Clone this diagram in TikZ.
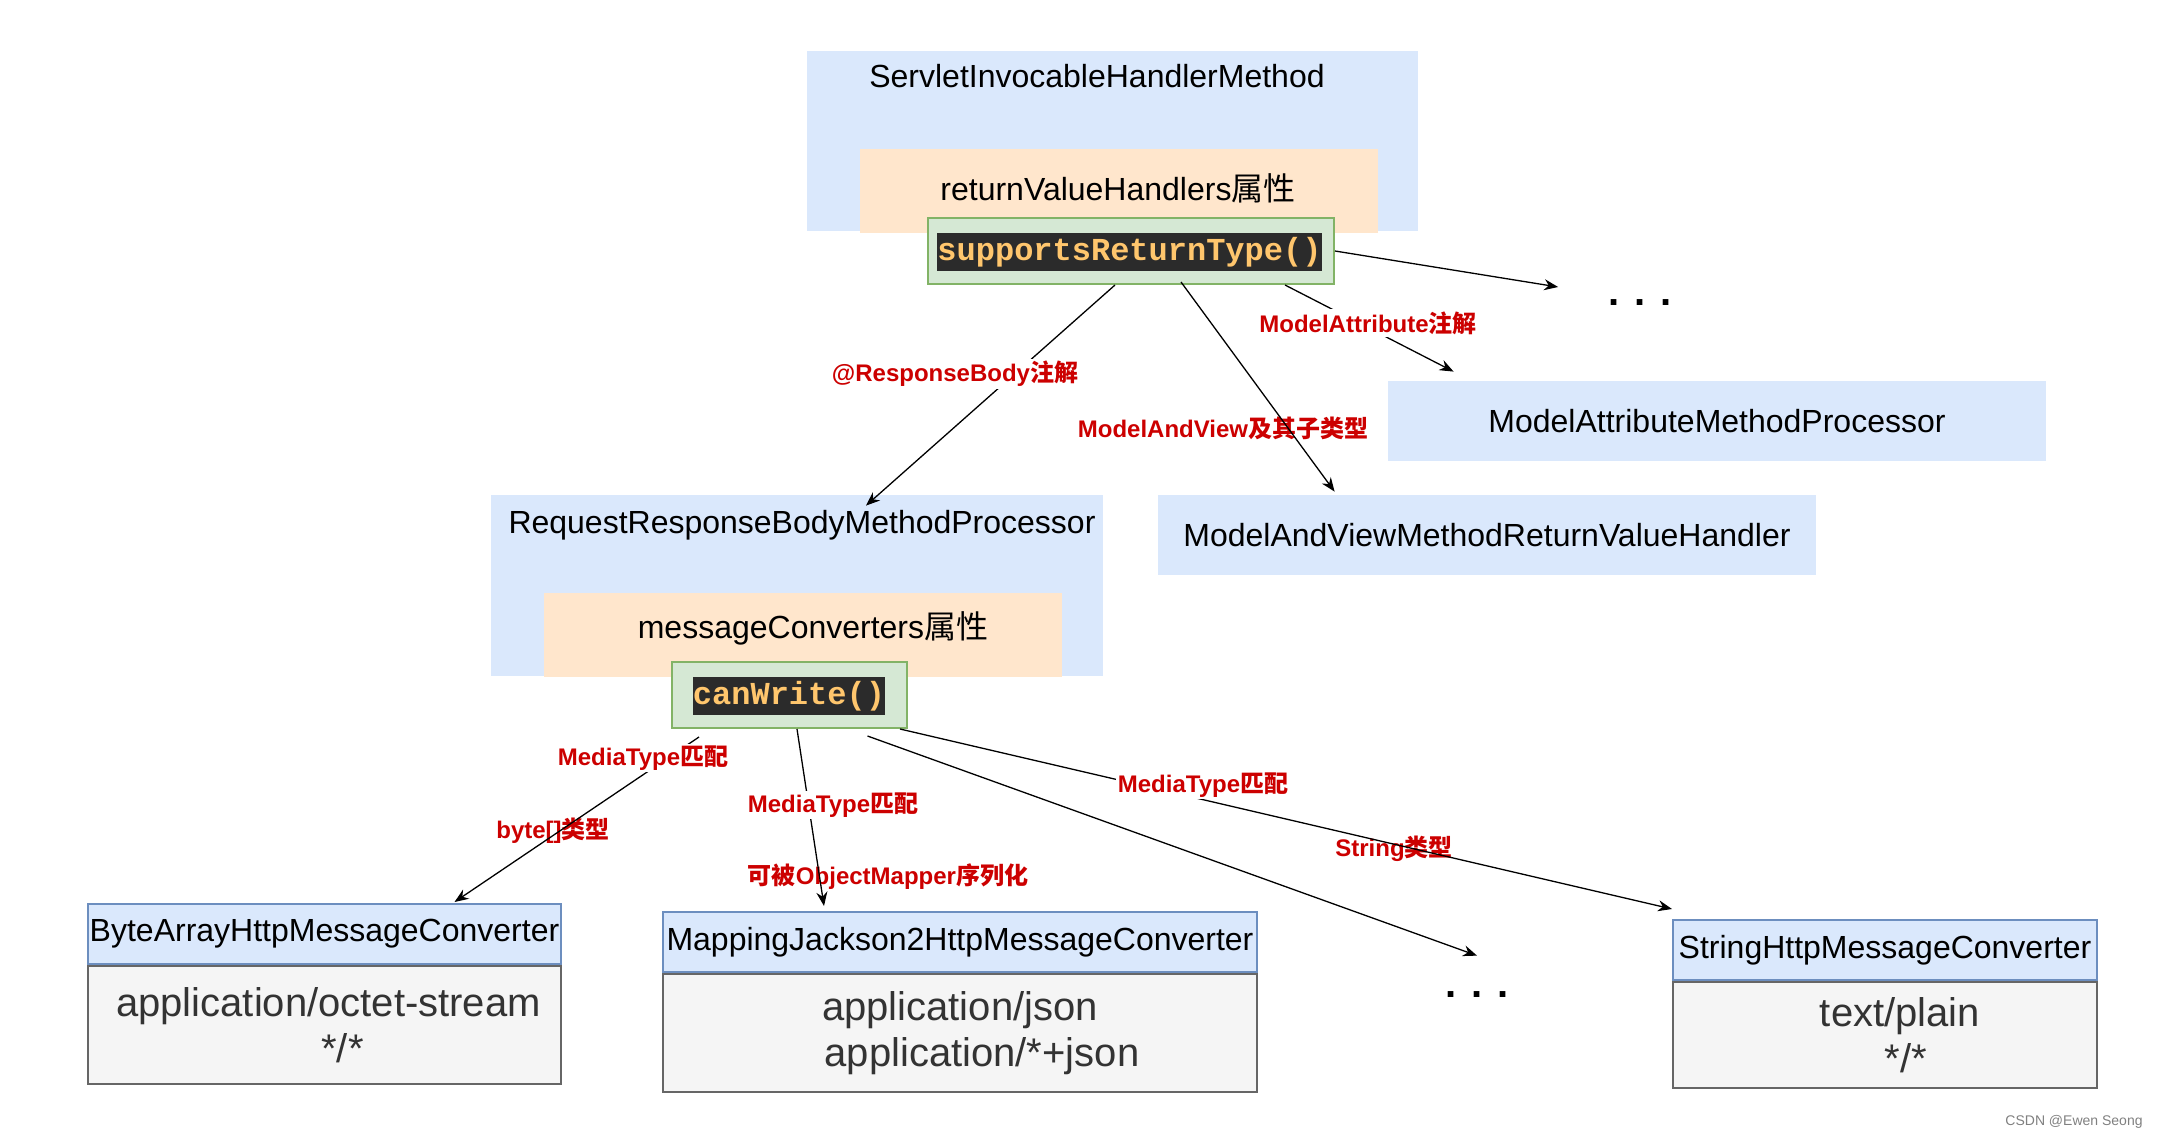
\documentclass[tikz,border=0pt]{standalone}
\usepackage{fontspec}
\setmainfont{Liberation Sans}
\setmonofont{Liberation Mono}
\newfontfamily\cjk{Noto Sans CJK SC}
\usetikzlibrary{arrows.meta}

\definecolor{holderblue}{HTML}{DAE8FC}
\definecolor{attrorange}{HTML}{FFE6CC}
\definecolor{methgreen}{HTML}{D5E8D4}
\definecolor{methedge}{HTML}{82B366}
\definecolor{headedge}{HTML}{6C8EBF}
\definecolor{bodygray}{HTML}{F5F5F5}
\definecolor{bodyedge}{HTML}{666666}
\definecolor{bodytext}{HTML}{333333}
\definecolor{labred}{HTML}{CC0000}
\definecolor{codebg}{HTML}{2B2B2B}
\definecolor{codefg}{HTML}{FFC66D}

\newcommand{\zh}[1]{{\cjk #1}}

\begin{document}
\begin{tikzpicture}[x=0.5pt,y=-0.5pt,
  title/.style={font=\fontsize{16}{19}\selectfont, inner sep=0pt},
  holder/.style={fill=holderblue, inner sep=0pt},
  attr/.style={fill=attrorange, inner sep=0pt},
  meth/.style={fill=methgreen, draw=methedge, line width=1pt, inner sep=0pt},
  code/.style={fill=codebg, text=codefg, inner sep=0pt, minimum height=19pt,
    font=\ttfamily\bfseries\fontsize{16}{16}\selectfont},
  head/.style={fill=holderblue, draw=headedge, line width=1pt, inner sep=0pt,
    minimum height=30pt, font=\fontsize{16}{19}\selectfont},
  body/.style={fill=bodygray, draw=bodyedge, line width=1pt, text=bodytext,
    align=center, anchor=north, font=\fontsize{20}{23}\selectfont},
  lab/.style={text=labred, inner sep=1pt, font=\bfseries\fontsize{12}{14}\selectfont},
  cut/.style={lab, fill=white},
  dots/.style={inner sep=0pt, font=\bfseries\fontsize{20}{20}\selectfont},
  arr/.style={-{Stealth[length=7pt,width=5.5pt]}, line width=0.65pt}]

\useasboundingbox (0,0) rectangle (2162,1140);

% 上层：ServletInvocableHandlerMethod
\node[holder, minimum width=305.5pt, minimum height=90pt] (servlet) at (1112.5,141) {};
\node[title] (servletT) at (1097,76) {ServletInvocableHandlerMethod};
\node[attr, minimum width=259pt, minimum height=42pt] (rvh) at (1119,191) {};
\node[title] (rvhT) at (1118,188) {returnValueHandlers\zh{属性}};
\node[meth, minimum width=203pt, minimum height=33pt] (sr) at (1131,251) {};
\node[code, minimum width=191.5pt] (srC) at (1129.5,252) {supportsReturnType()};

% 返回值处理器
\node[holder, title, minimum width=329pt, minimum height=40pt] (mam) at (1717,421) {ModelAttributeMethodProcessor};
\node[holder, title, minimum width=329pt, minimum height=40pt] (mav) at (1487,535) {ModelAndViewMethodReturnValueHandler};

\node[holder, minimum width=306pt, minimum height=90.5pt] (rrb) at (797,585.5) {};
\node[title] (rrbT) at (802,525) {RequestResponseBodyMethodProcessor};
\node[attr, minimum width=259pt, minimum height=42pt] (mc) at (803,635) {};
\node[title] (mcT) at (813,628) {messageConverters\zh{属性}};
\node[meth, minimum width=117.5pt, minimum height=33pt] (cw) at (789.5,695) {};
\node[code, minimum width=96pt] (cwC) at (789,696) {canWrite()};

% 消息转换器
\node[head, minimum width=236.5pt] (bah) at (324.5,934) {ByteArrayHttpMessageConverter};
\node[body, minimum width=236.5pt, minimum height=59pt] (bahB) at (bah.south) {\hspace*{4pt}application/octet-stream\\\hspace*{18pt}*/*};
\node[head, minimum width=297pt] (mj) at (960,942) {MappingJackson2HttpMessageConverter};
\node[body, minimum width=297pt, minimum height=59pt] (mjB) at (mj.south) {application/json\\\hspace*{22pt}application/*+json};
\node[head, minimum width=212pt] (sh) at (1885,950) {StringHttpMessageConverter};
\node[body, minimum width=212pt, minimum height=53pt] (shB) at (sh.south) {\hspace*{15pt}text/plain\\\hspace*{21pt}*/*};

\node[dots] (dotsA) at (1640,303) {. . .};
\node[dots] (dotsB) at (1477,995) {. . .};

% 线下的标签
\node[lab] (lblMV) at (1223,428) {ModelAndView\zh{及其子类型}};
\node[lab] (lblBA) at (553,831) {byte[]\zh{类型}};
\node[lab] (lblOM) at (888,877) {\zh{可被}ObjectMapper\zh{序列化}};
\node[lab] (lblST) at (1394,849) {String\zh{类型}};

% 连线
\draw[arr] (sr.east) -- ([xshift=-25pt,yshift=8pt]dotsA.west);
\draw[arr] ([xshift=77pt]sr.south) -- ([xshift=33pt,yshift=4.5pt]mam.north west);
\draw[arr] ([xshift=-8pt]sr.south) -- ([xshift=34.5pt,yshift=-5.5pt]rrb.north);
\draw[arr] ([xshift=25pt,yshift=1.5pt]sr.south) -- ([xshift=88.5pt,yshift=1.5pt]mav.north west);

\draw[arr] ([xshift=14pt,yshift=-4pt]cw.south west) -- ([xshift=65pt,yshift=0.5pt]bah.north);
\draw[arr] ([xshift=3.75pt]cw.south) -- ([xshift=-68pt,yshift=2.5pt]mj.north);
\draw[arr] ([xshift=39pt,yshift=-3.5pt]cw.south) -- ([yshift=18pt]dotsB.north);
\draw[arr] ([xshift=-4pt]cw.south east) -- ([yshift=5pt]sh.north west);

% 遮线的标签
\node[cut] (lblRB) at (955,374) {@ResponseBody\zh{注解}};
\node[cut] (lblMA) at (1368,323) {ModelAttribute\zh{注解}};
\node[cut] (lblM1) at (643,758) {MediaType\zh{匹配}};
\node[cut] (lblM2) at (833,805) {MediaType\zh{匹配}};
\node[cut] (lblM3) at (1203,785) {MediaType\zh{匹配}};

\node[text=gray, font=\fontsize{7}{8}\selectfont] (mark) at (2074,1122) {CSDN @Ewen Seong};

\end{tikzpicture}
\end{document}
